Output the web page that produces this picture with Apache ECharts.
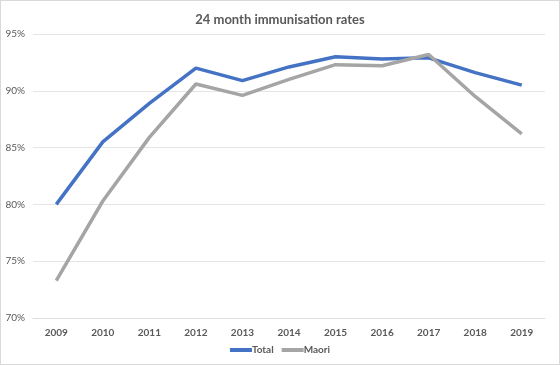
<!DOCTYPE html>
<html><head><meta charset="utf-8">
<script src="https://cdn.jsdelivr.net/npm/echarts@6/dist/echarts.min.js"></script>
<style>html,body{margin:0;padding:0;background:#fff}#c{width:560px;height:365px;box-sizing:border-box;border:1px solid #d9d9d9}</style>
</head><body><div id="c"></div>
<script>
const categories = ['2009','2010','2011','2012','2013','2014','2015','2016','2017','2018','2019'];
const totalValues = [80.0, 85.5, 88.9, 92.0, 90.9, 92.1, 93.0, 92.8, 92.9, 91.6, 90.5];
const maoriValues = [73.3, 80.3, 85.9, 90.6, 89.6, 91.0, 92.3, 92.2, 93.2, 89.5, 86.2];
const chart = echarts.init(document.getElementById('c'));
const font = 'Lato, "Open Sans", sans-serif';
chart.setOption({
  animation: false,
  title: {text: '24 month immunisation rates', left: 'center', top: 7,
    textStyle: {fontFamily: font, fontSize: 13, fontWeight: 'bold', color: '#595959'}},
  grid: {left: 32, right: 14, top: 33, bottom: 46},
  legend: {bottom: 4, itemWidth: 22, itemHeight: 4, itemGap: 8,
    icon: 'rect',
    textStyle: {fontFamily: font, fontSize: 10, color: '#595959', fontWeight: 'bold', padding: [0,0,0,-5]},
    data: ['Total','Maori']},
  xAxis: {type: 'category', data: categories, boundaryGap: true,
    axisLine: {lineStyle: {color: '#e0e0e0'}}, axisTick: {show: false},
    axisLabel: {fontFamily: font, fontSize: 10, color: '#595959', fontWeight: 'bold', margin: 10}},
  yAxis: {type: 'value', min: 70, max: 95, interval: 5,
    axisLine: {show: false}, axisTick: {show: false},
    splitLine: {lineStyle: {color: '#e5e5e5'}},
    axisLabel: {fontFamily: font, fontSize: 10, color: '#595959', formatter: '{value}%', margin: 8}},
  series: [
    {name: 'Total', type: 'line', data: totalValues, symbol: 'none', lineStyle: {width: 3.5, color: '#4472C4'}, itemStyle: {color: '#4472C4'}},
    {name: 'Maori', type: 'line', data: maoriValues, symbol: 'none', lineStyle: {width: 3.5, color: '#A5A5A5'}, itemStyle: {color: '#A5A5A5'}}
  ]
});
</script></body></html>
